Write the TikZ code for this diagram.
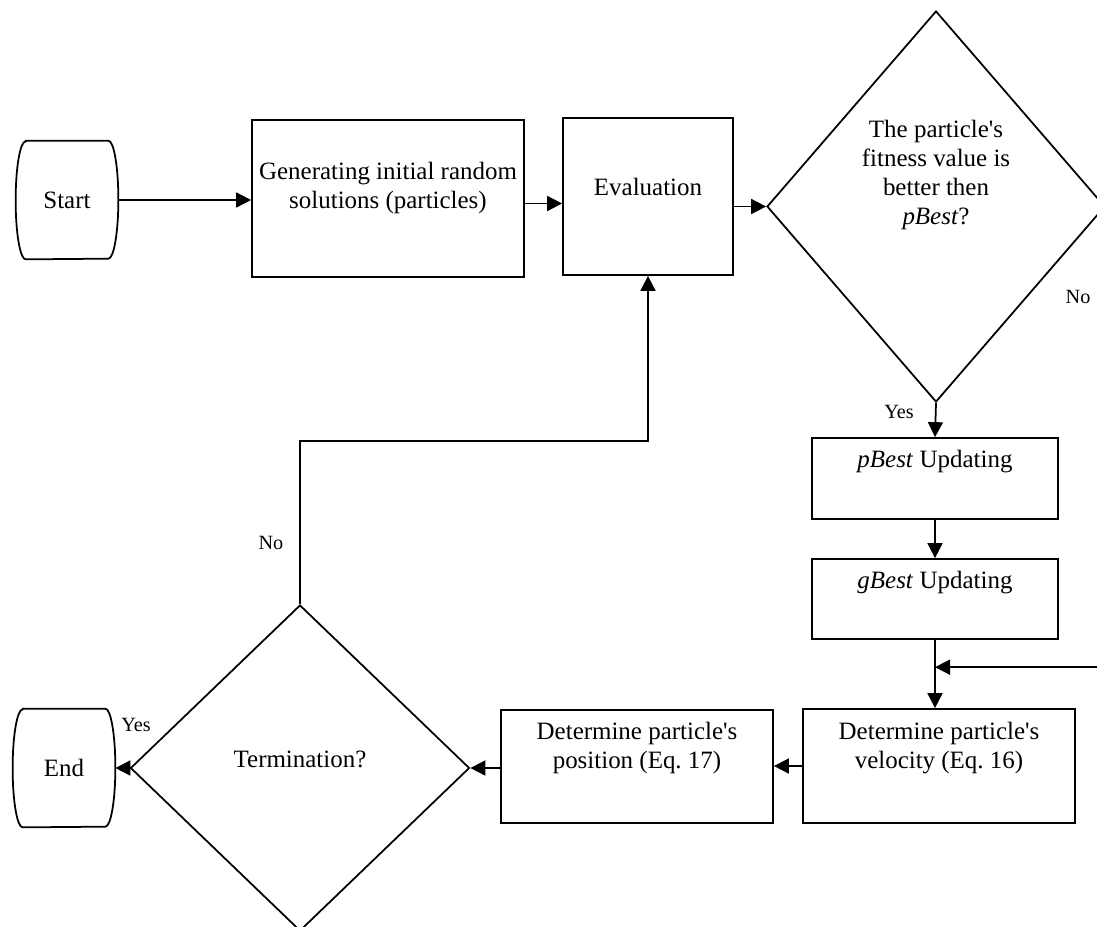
\documentclass[tikz,border=0pt]{standalone}
\usepackage{fontspec}
\setmainfont{Liberation Serif}
\usetikzlibrary{positioning,arrows.meta,calc,shapes.geometric}

\begin{document}
\begin{tikzpicture}[
    x=0.2mm, y=-0.2mm,
    box/.style={draw, line width=1pt, minimum width=54.4mm, inner sep=0pt},
    termbox/.style={minimum width=20.4mm, minimum height=23.6mm, inner sep=0pt, font=\fontsize{14.2}{16.5}\selectfont},
    decide/.style={draw, line width=1pt, diamond, inner sep=0pt},
    txt/.style={align=center, font=\fontsize{14.2}{16.5}\selectfont, inner sep=0pt},
    lbl/.style={font=\fontsize{11.5}{13}\selectfont, inner sep=0pt},
    flow/.style={->, line width=1pt},
    >={Triangle[length=3mm, width=3mm]}
]

\useasboundingbox (0,0) rectangle (1097,926);
\clip (0,0) rectangle (1097,926);

% Top row
\node[termbox] (start) at (67,200) {Start};
\node[box, minimum height=31.4mm] (gen) at (388,198.5) {};
\node[txt] (gentxt) at (388,187.5) {Generating initial random\\solutions (particles)};
\node[box, minimum width=34mm, minimum height=31.4mm] (eval) at (648,196.5) {};
\node[txt] (evaltxt) at (648,187) {Evaluation};
\node[decide, minimum width=67.6mm, minimum height=78.2mm] (fit) at (936,206.5) {};
\node[txt] (fittxt) at (936,174.5) {The particle\textquotesingle s\\fitness value is\\better then\\\textit{pBest}?};

% Right column
\node[box, minimum width=49.2mm, minimum height=16.2mm] (pbest) at (935,478.5) {};
\node[txt] (pbesttxt) at (935,462) {\textit{pBest} Updating};
\node[box, minimum width=49.2mm, minimum height=16mm] (gbest) at (935,599) {};
\node[txt] (gbesttxt) at (935,583) {\textit{gBest} Updating};

% Bottom row
\node[box, minimum height=22.8mm] (vel) at (939,766) {};
\node[txt] (veltxt) at (939,748) {Determine particle\textquotesingle s\\velocity (Eq.\ 16)};
\node[box, minimum height=22.6mm] (pos) at (637,766.5) {};
\node[txt] (postxt) at (637,748) {Determine particle\textquotesingle s\\position (Eq.\ 17)};
\node[decide, minimum width=67.8mm, minimum height=65.2mm] (stop) at (300,768) {};
\node[txt] (stoptxt) at (300,759) {Termination?};
\node[termbox] (end) at (64,768) {End};

% Terminal outlines
\foreach \t in {start,end}
  \draw[line width=1pt] ([xshift=2mm]\t.north west) -- ([xshift=-2mm]\t.north east)
    arc[start angle=90, end angle=-90, x radius=2mm, y radius=11.8mm]
    -- ([xshift=2mm]\t.south west)
    arc[start angle=270, end angle=90, x radius=2mm, y radius=11.8mm] -- cycle;

% Arrows
\draw[flow] (start.east) -- (start.east -| gen.west);
\draw[flow] ([yshift=-1mm]gen.east) -- ([yshift=-1mm]gen.east -| eval.west);
\draw[flow] (fit.west -| eval.east) -- (fit.west);
\draw[flow] (fit.south) -- (pbest.north);
\draw[flow] (pbest.south) -- (gbest.north);
\draw[flow] (gbest.south) -- (gbest.south |- vel.north);
\coordinate (join) at ($(gbest.south)!0.4!(gbest.south |- vel.north)$);
\draw[flow] (fit.east) |- (join);
\draw[flow] (vel.west) -- (vel.west -| pos.east);
\draw[flow] (stop.east -| pos.west) -- (stop.east);
\draw[flow] (stop.west) -- (stop.west -| end.east);
\coordinate (back) at ($(eval.south)+(0,165)$);
\draw[flow] (stop.north) |- (back) -- (eval.south);

% Branch labels
\node[lbl] (yes1) at (899,412) {Yes};
\node[lbl] (no1) at (1078,297) {No};
\node[lbl] (yes2) at (136,725) {Yes};
\node[lbl] (no2) at (271,543) {No};

\end{tikzpicture}
\end{document}
